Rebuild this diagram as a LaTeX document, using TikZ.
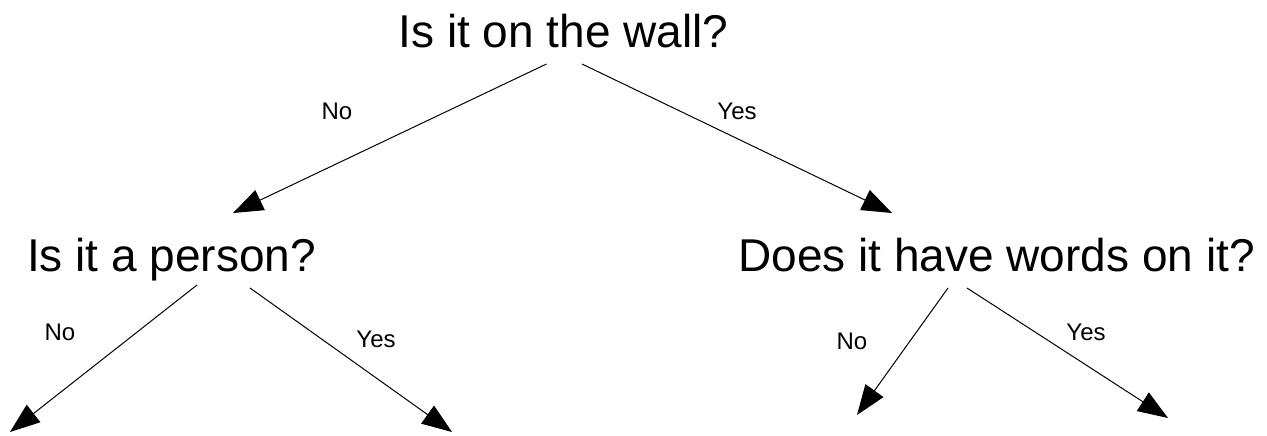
\documentclass[tikz,border=0pt]{standalone}
\usepackage{fontspec}
\setmainfont{Liberation Sans}
\usetikzlibrary{arrows.meta}

\begin{document}
\begin{tikzpicture}[
  x=1pt, y=-1pt,
  question/.style={font=\fontsize{46}{50}\selectfont, inner sep=0pt, anchor=base},
  answer/.style={font=\fontsize{24}{28}\selectfont, inner sep=0pt, anchor=base},
  arr/.style={-{Triangle[length=30pt, width=22pt]}, line width=1pt, draw=black},
]
  \useasboundingbox (0,0) rectangle (1267,436);

  % ---- questions ------------------------------------------------------------
  \node[question] (wall)   at (563.5,48) {Is it on the wall?};
  \node[question] (person) at (171.5,271) {Is it a person?};
  \node[question] (words)  at (996.5,271) {Does it have words on it?};

  % ---- leaf ends ------------------------------------------------------------
  \coordinate (leafa) at (10,432);
  \coordinate (leafb) at (452,432);
  \coordinate (leafc) at (857,415);
  \coordinate (leafd) at (1168,418);

  % ---- branches -------------------------------------------------------------
  \draw[arr] ([xshift=-17pt, yshift=-16pt]wall.base) -- ([xshift=61.5pt, yshift=58pt]person.base);
  \draw[arr] ([xshift=18.5pt, yshift=-16pt]wall.base) -- ([xshift=-104.5pt, yshift=58pt]words.base);
  \draw[arr] ([xshift=25.5pt, yshift=-14pt]person.base) -- (leafa);
  \draw[arr] ([xshift=78.5pt, yshift=-17pt]person.base) -- (leafb);
  \draw[arr] ([xshift=-48.5pt, yshift=-17pt]words.base) -- (leafc);
  \draw[arr] ([xshift=-29.5pt, yshift=-17pt]words.base) -- (leafd);

  % ---- answers --------------------------------------------------------------
  \node[answer] (wallno)    at (337,120) {No};
  \node[answer] (wallyes)   at (737,120) {Yes};
  \node[answer] (personno)  at (60,340)  {No};
  \node[answer] (personyes) at (376,347) {Yes};
  \node[answer] (wordsno)   at (852,349) {No};
  \node[answer] (wordsyes)  at (1086,340) {Yes};
\end{tikzpicture}
\end{document}
